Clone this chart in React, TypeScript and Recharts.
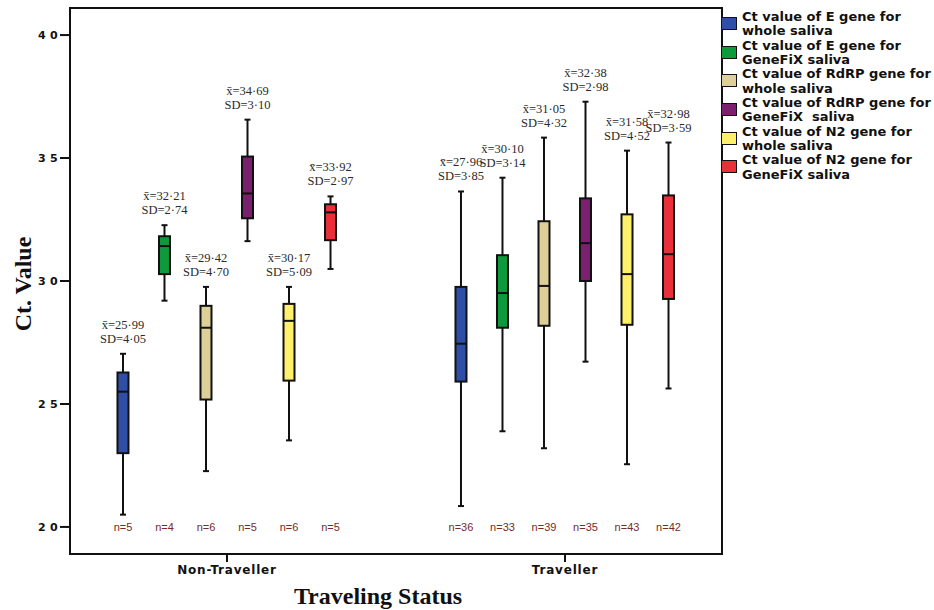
import { Bar, ComposedChart, ReferenceArea, XAxis, YAxis } from "recharts";

const groups = ["Non-Traveller", "Traveller"];

const seriesNames = [
  ["Ct value of E gene for", "whole saliva"],
  ["Ct value of E gene for", "GeneFiX saliva"],
  ["Ct value of RdRP gene for", "whole saliva"],
  ["Ct value of RdRP gene for", "GeneFiX  saliva"],
  ["Ct value of N2 gene for", "whole saliva"],
  ["Ct value of N2 gene for", "GeneFiX saliva"],
];

const boxColors = ["#2f4fa6", "#0d9a3c", "#dccf98", "#7b1f6f", "#fff06c", "#e9303a"];

// [group][series]
const whiskerLow = [
  [20.5, 29.2, 22.27, 31.62, 23.52, 30.49],
  [20.85, 23.89, 23.2, 26.72, 22.55, 25.63],
];
const quartile1 = [
  [23.0, 30.28, 25.18, 32.55, 25.95, 31.66],
  [25.91, 28.1, 28.18, 30.0, 28.22, 29.27],
];
const medians = [
  [25.5, 31.42, 28.1, 33.56, 28.38, 32.79],
  [27.45, 29.51, 29.8, 31.54, 30.28, 31.09],
];
const quartile3 = [
  [26.28, 31.82, 28.99, 35.06, 29.07, 33.12],
  [29.76, 31.05, 32.43, 33.36, 32.71, 33.48],
];
const whiskerHigh = [
  [27.04, 32.27, 29.76, 36.56, 29.76, 33.44],
  [33.64, 34.2, 35.83, 37.29, 35.3, 35.63],
];
const means = [
  [25.99, 32.21, 29.42, 34.69, 30.17, 33.92],
  [27.96, 30.1, 31.05, 32.38, 31.58, 32.98],
];
const sds = [
  [4.05, 2.74, 4.7, 3.1, 5.09, 2.97],
  [3.85, 3.14, 4.32, 2.98, 4.52, 3.59],
];
const counts = [
  [5, 4, 6, 5, 6, 5],
  [36, 33, 39, 35, 43, 42],
];

const yTicks = [20, 25, 30, 35, 40];

const boxSpacing = 0.1228;
const fmt = (v: number) => v.toFixed(2).replace(".", "\u00b7");

const rows = groups.flatMap((g, gi) =>
  seriesNames.map((_, si) => ({
    pos: gi + 1 + (si - 2.5) * boxSpacing,
    range: [whiskerLow[gi][si], whiskerHigh[gi][si]],
    lo: whiskerLow[gi][si],
    q1: quartile1[gi][si],
    med: medians[gi][si],
    q3: quartile3[gi][si],
    hi: whiskerHigh[gi][si],
    mean: means[gi][si],
    sd: sds[gi][si],
    n: counts[gi][si],
    color: boxColors[si],
  }))
);

function BoxShape(props: any) {
  const { x, y, width, height, payload } = props;
  const top = Math.min(y, y + height);
  const h = Math.abs(height);
  const k = h / (payload.hi - payload.lo);
  const toY = (v: number) => top + (payload.hi - v) * k;
  const cx = x + width / 2;
  const yq3 = toY(payload.q3);
  const yq1 = toY(payload.q1);
  const ym = toY(payload.med);
  return (
    <g>
      <line x1={cx} x2={cx} y1={toY(payload.hi)} y2={toY(payload.lo)} stroke="#111" strokeWidth={2} />
      <line x1={cx - 3} x2={cx + 3} y1={toY(payload.hi)} y2={toY(payload.hi)} stroke="#111" strokeWidth={2} />
      <line x1={cx - 3} x2={cx + 3} y1={toY(payload.lo)} y2={toY(payload.lo)} stroke="#111" strokeWidth={2} />
      <rect x={x} y={yq3} width={width} height={yq1 - yq3} fill={payload.color} stroke="#111" strokeWidth={2} />
      <line x1={x} x2={x + width} y1={ym} y2={ym} stroke="#111" strokeWidth={2} />
      <text x={cx} y={toY(payload.hi) - 25} textAnchor="middle" fontFamily="Liberation Serif" fontSize={12.5} fill="#2a2a2a">
        {"x\u0304=" + fmt(payload.mean)}
      </text>
      <text x={cx} y={toY(payload.hi) - 11} textAnchor="middle" fontFamily="Liberation Serif" fontSize={12.5} fill="#2a2a2a">
        {"SD=" + fmt(payload.sd)}
      </text>
      <text x={cx} y={toY(20) + 4} textAnchor="middle" fontFamily="Liberation Sans" fontSize={11} fill="#7a2a2a">
        {"n=" + payload.n}
      </text>
    </g>
  );
}

function YTick(props: any) {
  const { x, y, payload } = props;
  return (
    <text x={x - 20} y={y + 4} fontFamily="DejaVu Sans" fontWeight="bold" fontSize={11} letterSpacing={4.3} fill="#111">
      {payload.value}
    </text>
  );
}

function XTick(props: any) {
  const { x, y, payload } = props;
  return (
    <text x={x} y={y + 10} textAnchor="middle" fontFamily="DejaVu Sans" fontWeight="bold" fontSize={12} letterSpacing={0.8} fill="#111">
      {groups[payload.value - 1]}
    </text>
  );
}

export default function App() {
  const xDomain = [0.5355, 2.4645];
  const yDomain = [18.9, 41.1];
  return (
    <div style={{ position: "absolute", left: 0, top: 0, width: 934, height: 610, background: "#fff" }}>
      <ComposedChart width={934} height={610} data={rows} margin={{ top: 8, right: 212, bottom: 0, left: 0 }}>
        <XAxis
          dataKey="pos"
          type="number"
          domain={xDomain}
          allowDataOverflow
          ticks={[1, 2]}
          height={56}
          tickSize={8}
          tickLine={{ stroke: "#111", strokeWidth: 2 }}
          axisLine={false}
          tick={<XTick />}
          label={{
            content: ({ viewBox }: any) => (
              <text
                x={viewBox.x + viewBox.width / 2 - 18}
                y={viewBox.y + 50}
                textAnchor="middle"
                fontFamily="Liberation Serif"
                fontWeight="bold"
                fontSize={24}
                fill="#111"
              >
                Traveling Status
              </text>
            ),
          }}
        />
        <YAxis
          type="number"
          domain={yDomain}
          allowDataOverflow
          ticks={yTicks}
          width={70}
          tickSize={10}
          tickMargin={2}
          tickLine={{ stroke: "#111", strokeWidth: 2 }}
          axisLine={false}
          tick={<YTick />}
          label={{
            content: ({ viewBox }: any) => {
              const cy = viewBox.y + viewBox.height / 2 + 3;
              return (
                <text
                  x={31}
                  y={cy}
                  transform={`rotate(-90 31 ${cy})`}
                  textAnchor="middle"
                  fontFamily="Liberation Serif"
                  fontWeight="bold"
                  fontSize={24}
                  fill="#111"
                >
                  Ct. Value
                </text>
              );
            },
          }}
        />
        <ReferenceArea
          x1={xDomain[0]}
          x2={xDomain[1]}
          y1={yDomain[0]}
          y2={yDomain[1]}
          fill="none"
          stroke="#111"
          strokeWidth={2}
          ifOverflow="visible"
        />
        <Bar dataKey="range" barSize={11} shape={<BoxShape />} isAnimationActive={false} />
      </ComposedChart>
      <div style={{ position: "absolute", left: 721, top: 10, fontFamily: "DejaVu Sans", fontWeight: "bold", fontSize: 13, lineHeight: "14.3px", color: "#111" }}>
        {seriesNames.map((lines, i) => (
          <div key={i} style={{ position: "relative", height: 28.7, paddingLeft: 21, whiteSpace: "pre" }}>
            <div
              style={{
                position: "absolute",
                left: 0,
                top: 7,
                width: 14,
                height: 11,
                background: boxColors[i],
                border: "1.5px solid #111",
              }}
            />
            <div>{lines[0]}</div>
            <div>{lines[1]}</div>
          </div>
        ))}
      </div>
    </div>
  );
}
